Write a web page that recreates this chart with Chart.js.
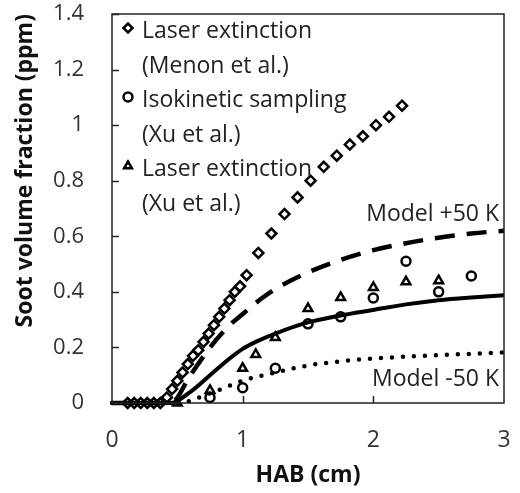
<!DOCTYPE html>
<html>
<head>
<meta charset="utf-8">
<script src="https://cdn.jsdelivr.net/npm/chart.js@4.4.1/dist/chart.umd.min.js"></script>
<style>
  html, body { margin: 0; padding: 0; background: #fff; }
</style>
</head>
<body>
<canvas id="myChart" width="520" height="493"></canvas>
<script>
// HAB (cm) / soot volume fraction (ppm)
const menonX = [0.12, 0.17, 0.22, 0.27, 0.32, 0.37, 0.42, 0.46, 0.5, 0.54, 0.58, 0.62, 0.66, 0.7, 0.74, 0.78, 0.82, 0.86, 0.9, 0.94, 0.98, 1.03,
    1.12, 1.22, 1.32, 1.42, 1.52, 1.62, 1.72, 1.82, 1.92, 2.02, 2.12, 2.22];
const menonY = [0, 0, 0, 0, 0, 0, 0.02, 0.05, 0.08, 0.11, 0.14, 0.17, 0.19, 0.22, 0.25, 0.28, 0.31, 0.34, 0.37, 0.4, 0.42, 0.46,
    0.54, 0.61, 0.68, 0.74, 0.8, 0.85, 0.89, 0.93, 0.96, 1.0, 1.03, 1.07];

const isoX = [0.75, 1.0, 1.25, 1.5, 1.75, 2.0, 2.25, 2.5, 2.75];
const isoY = [0.02, 0.055, 0.125, 0.285, 0.31, 0.378, 0.51, 0.4, 0.457];

const xuLeX = [0.5, 0.75, 1.0, 1.1, 1.25, 1.5, 1.75, 2.0, 2.25, 2.5];
const xuLeY = [0, 0.045, 0.125, 0.175, 0.236, 0.34, 0.38, 0.416, 0.436, 0.44];

const modelX = [0, 0.45, 0.6, 0.75, 0.9, 1.0, 1.1, 1.25, 1.5, 1.75, 2.0, 2.25, 2.5, 2.75, 3.0];
const modelY = [0, 0, 0.04, 0.1, 0.16, 0.195, 0.22, 0.25, 0.29, 0.315, 0.335, 0.355, 0.37, 0.38, 0.388];
const plus50Y = [0, 0, 0.1, 0.2, 0.28, 0.32, 0.36, 0.41, 0.47, 0.515, 0.55, 0.575, 0.595, 0.61, 0.62];
const minus50X = [0, 0.5, 0.75, 1.0, 1.25, 1.5, 1.75, 2.0, 2.5, 3.0];
const minus50Y = [0, 0, 0.035, 0.08, 0.11, 0.135, 0.15, 0.16, 0.172, 0.182];

const yTicks = [0, 0.2, 0.4, 0.6, 0.8, 1, 1.2, 1.4];
const xTicks = [0, 1, 2, 3];

const legendLines = [
    {style: 'rectRot', text: 'Laser extinction'},
    {style: null, text: '(Menon et al.)'},
    {style: 'circle', text: 'Isokinetic sampling'},
    {style: null, text: '(Xu et al.)'},
    {style: 'triangle', text: 'Laser extinction'},
    {style: null, text: '(Xu et al.)'}
];

const FONT = '"Open Sans", Lato, sans-serif';

function pts(xs, ys) {
    return xs.map((x, i) => ({x: x, y: ys[i]}));
}

const extras = {
    id: 'extras',
    afterDraw(chart) {
        const ctx = chart.ctx;
        const a = chart.chartArea;
        const xs = chart.scales.x, ys = chart.scales.y;
        ctx.save();
        ctx.strokeStyle = '#222';
        ctx.lineWidth = 1.5;
        ctx.strokeRect(a.left, a.top, a.right - a.left, a.bottom - a.top);
        // inward ticks
        ctx.beginPath();
        yTicks.forEach(v => {
            const py = Math.round(ys.getPixelForValue(v)) + 0.5;
            ctx.moveTo(a.left, py);
            ctx.lineTo(a.left + 7, py);
        });
        [1, 2].forEach(v => {
            const px = Math.round(xs.getPixelForValue(v)) + 0.5;
            ctx.moveTo(px, a.bottom);
            ctx.lineTo(px, a.bottom - 7);
        });
        ctx.stroke();

        // legend
        ctx.font = '23px ' + FONT;
        ctx.fillStyle = '#222';
        ctx.textBaseline = 'alphabetic';
        let y = a.top + 24;
        legendLines.forEach(l => {
            if (l.style) {
                ctx.strokeStyle = '#000';
                ctx.fillStyle = '#fff';
                ctx.lineWidth = 2.5;
                Chart.helpers.drawPoint(ctx, {pointStyle: l.style, radius: 4.5, borderWidth: 2.5}, a.left + 16, y - 10);
                ctx.fillStyle = '#222';
            }
            ctx.fillText(l.text, a.left + 30, y);
            y += 34.5;
        });

        ctx.textAlign = 'right';
        ctx.fillText('Model +50 K', a.right - 5, ys.getPixelForValue(0.655));
        ctx.fillText('Model -50 K', a.right - 5, ys.getPixelForValue(0.06));
        ctx.restore();
    }
};

const ctx = document.getElementById('myChart').getContext('2d');
const myChart = new Chart(ctx, {
    type: 'scatter',
    data: {
        datasets: [
            {
                label: 'Model +50 K',
                data: pts(modelX, plus50Y),
                showLine: true,
                borderColor: '#000',
                borderWidth: 4.5,
                borderDash: [20, 12],
                pointRadius: 0,
                cubicInterpolationMode: 'monotone'
            },
            {
                label: 'Model',
                data: pts(modelX, modelY),
                showLine: true,
                borderColor: '#000',
                borderWidth: 4,
                pointRadius: 0,
                cubicInterpolationMode: 'monotone'
            },
            {
                label: 'Model -50 K',
                data: pts(minus50X, minus50Y),
                showLine: true,
                borderColor: '#000',
                borderWidth: 4.5,
                borderDash: [0, 11],
                borderCapStyle: 'round',
                pointRadius: 0,
                cubicInterpolationMode: 'monotone'
            },
            {
                label: 'Laser extinction (Menon et al.)',
                data: pts(menonX, menonY),
                pointStyle: 'rectRot',
                pointRadius: 5,
                borderWidth: 2.5,
                borderColor: '#000',
                backgroundColor: '#fff'
            },
            {
                label: 'Isokinetic sampling (Xu et al.)',
                data: pts(isoX, isoY),
                pointStyle: 'circle',
                pointRadius: 4.5,
                borderWidth: 2.5,
                borderColor: '#000',
                backgroundColor: 'rgba(255,255,255,0)'
            },
            {
                label: 'Laser extinction (Xu et al.)',
                data: pts(xuLeX, xuLeY),
                pointStyle: 'triangle',
                pointRadius: 5,
                borderWidth: 2.5,
                borderColor: '#000',
                backgroundColor: 'rgba(255,255,255,0)'
            }
        ]
    },
    options: {
        responsive: false,
        animation: false,
        devicePixelRatio: 1,
        clip: false,
        layout: {padding: {top: 14, right: 16, left: 0, bottom: 0}},
        plugins: {legend: {display: false}, tooltip: {enabled: false}},
        scales: {
            x: {
                type: 'linear',
                min: 0, max: 3,
                afterBuildTicks: s => { s.ticks = xTicks.map(v => ({value: v})); },
                afterFit: s => { s.height = 90; s.paddingLeft = 0; s.paddingRight = 0; },
                grid: {display: false, drawTicks: false},
                border: {display: false},
                ticks: {padding: 24, color: '#333', font: {family: FONT, size: 23}},
                title: {display: true, text: 'HAB (cm)', color: '#111', padding: {top: 9},
                    font: {family: FONT, size: 23, weight: 'bold'}}
            },
            y: {
                type: 'linear',
                min: 0, max: 1.4,
                afterBuildTicks: s => { s.ticks = yTicks.map(v => ({value: v})); },
                afterFit: s => { s.width = 112; s.paddingTop = 0; s.paddingBottom = 0; },
                grid: {display: false, drawTicks: false},
                border: {display: false},
                ticks: {padding: 28, color: '#333', font: {family: FONT, size: 22},
                    callback: v => String(v)},
                title: {display: true, text: 'Soot volume fraction (ppm)', color: '#111', align: 'end',
                    padding: {top: 12}, font: {family: FONT, size: 23, weight: 'bold'}}
            }
        }
    },
    plugins: [extras]
});
</script>
</body>
</html>
